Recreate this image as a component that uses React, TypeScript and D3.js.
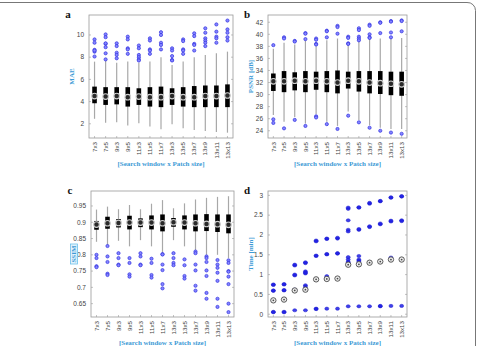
import React from "react";
import * as d3 from "d3";

const categories = ["7x3","7x5","9x3","9x5","11x3","11x5","11x7","13x3","13x5","13x7","13x9","13x11","13x13"];

// Panel a: MAE
const maeLo = [2.45,2.1,2.15,1.85,2.05,1.75,1.5,1.95,1.6,1.45,1.35,1.25,1.2];
const maeQ1 = [3.85,3.7,3.75,3.55,3.7,3.55,3.5,3.7,3.55,3.5,3.5,3.5,3.5];
const maeMed = [4.5,4.45,4.5,4.4,4.45,4.4,4.4,4.5,4.4,4.4,4.5,4.5,4.55];
const maeQ3 = [5.35,5.3,5.3,5.3,5.2,5.3,5.35,5.2,5.3,5.4,5.45,5.45,5.55];
const maeHi = [7.6,7.8,7.5,7.6,7.5,7.6,8.0,7.3,7.6,8.0,8.2,8.35,8.5];
const maeOut = [
  [9.6,9.3,8.66,8.5,8.6,8.06],
  [10.05,9.8,9.2,8.9,9.25,8.35,7.8],
  [9.25,9.0,8.4,8.2,7.9],
  [9.85,9.6,8.8,8.7,8.3],
  [9.05,8.8,8.2,8.0,7.8,7.7],
  [9.7,9.5,8.7,8.6,8.3],
  [10.25,10.0,9.3,9.1,8.7],
  [8.8,8.6,8.1,7.75,7.7],
  [9.6,9.45,8.7,8.6,8.3],
  [10.15,9.9,9.2,9.1,8.6],
  [10.6,10.2,9.7,9.5,9.3,9.0],
  [10.95,10.3,9.85,9.7,9.3],
  [11.3,10.5,10.2,9.8,9.5],
];

// Panel b: PSNR
const psnrLo = [26.6,25.5,26.3,25.2,26.8,25.5,24.8,27.2,25.8,24.9,24.5,24.3,24.3];
const psnrQ1 = [30.6,30.4,30.7,30.4,30.8,30.4,30.2,31.0,30.5,30.2,30.1,29.9,29.8];
const psnrMed = [32.2,32.2,32.3,32.2,32.3,32.2,32.0,32.3,32.2,32.0,31.9,31.8,31.7];
const psnrQ3 = [33.5,33.9,33.7,33.9,33.8,33.9,34.0,33.8,33.9,33.9,33.9,33.8,33.8];
const psnrHi = [37.6,38.6,38.3,39.0,38.0,39.0,39.3,38.2,38.9,39.3,39.3,39.3,39.4];
const psnrOut = [
  [38.2,25.9,25.3],
  [39.5,39.3,24.4],
  [38.9,38.8,25.8],
  [40.2,40.1,39.2,24.8],
  [39.3,39.1,38.4,38.3,26.4,26.2],
  [40.6,40.5,39.5,25.1],
  [41.4,41.2,40.1,24.3],
  [39.6,39.4,38.5,38.4,26.5],
  [41.0,40.7,39.6,39.3,39.0,25.4],
  [41.6,41.4,40.0,39.5,39.4,24.5],
  [42.0,41.9,40.2,24.0],
  [42.2,42.1,40.3,39.5,23.7],
  [42.3,42.2,40.5,23.5],
];

// Panel c: SSIM
const ssimLo = [0.84,0.825,0.843,0.826,0.845,0.826,0.805,0.845,0.826,0.805,0.8,0.8,0.79];
const ssimQ1 = [0.877,0.88,0.884,0.878,0.885,0.878,0.872,0.886,0.878,0.872,0.873,0.87,0.866];
const ssimMed = [0.893,0.897,0.898,0.899,0.899,0.899,0.897,0.9,0.899,0.897,0.895,0.894,0.892];
const ssimQ3 = [0.904,0.917,0.91,0.92,0.912,0.921,0.924,0.913,0.921,0.924,0.925,0.924,0.924];
const ssimHi = [0.939,0.948,0.94,0.953,0.94,0.957,0.968,0.943,0.958,0.97,0.975,0.978,0.98];
const ssimOut = [
  [0.8,0.79,0.765,0.762],
  [0.827,0.795,0.778,0.742,0.738],
  [0.805,0.79,0.77,0.768],
  [0.79,0.775,0.74,0.733],
  [0.805,0.795,0.77,0.768],
  [0.788,0.775,0.738,0.73],
  [0.802,0.801,0.77,0.753,0.71,0.697],
  [0.805,0.79,0.775,0.768],
  [0.786,0.768,0.735,0.727],
  [0.81,0.805,0.77,0.752,0.705,0.69],
  [0.795,0.79,0.778,0.752,0.735,0.683,0.665],
  [0.784,0.77,0.76,0.745,0.72,0.665,0.64],
  [0.783,0.775,0.75,0.748,0.733,0.71,0.65,0.624],
];

// Panel d: Time
const timePoints = [
  [0.74,0.75,0.59,0.6,0.06,0.05],
  [0.75,0.76,0.6,0.61,0.06,0.05],
  [1.23,1.25,0.98,1.0,0.62,0.1],
  [1.29,1.31,1.08,1.03,1.05,0.73,0.69,0.1],
  [1.86,1.84,1.47,1.48,0.14,0.13],
  [1.9,1.91,1.51,1.52,0.96,0.14],
  [1.91,1.93,1.53,1.54,0.14],
  [2.66,2.69,2.37,2.13,2.09,1.44,1.38,1.32,1.3,0.2],
  [2.69,2.7,2.13,2.15,1.47,1.38,1.35,1.32,0.2],
  [2.79,2.81,2.2,2.22,0.2],
  [2.85,2.86,2.27,2.29,0.2,0.21],
  [2.94,2.95,2.34,2.36,1.43,0.21],
  [2.97,2.98,2.37,2.35,0.21],
];
const timeMedian = [0.35,0.37,0.6,0.62,0.88,0.89,0.9,1.25,1.26,1.3,1.33,1.38,1.38];

const BLUE_LABEL = "#3d9bd6";
const FONT_SANS = "'Liberation Sans', Arial, sans-serif";
const FONT_SERIF = "'Liberation Serif', 'Times New Roman', serif";

type PanelProps = {
  left: number; right: number; top: number; bottom: number;
  domain: [number, number]; ticks: number[]; tickFmt: (v: number) => string;
  ylabel: string; letter: string; boxedLabel?: boolean;
  children: (x: d3.ScaleLinear<number, number>, y: d3.ScaleLinear<number, number>) => React.ReactNode;
};

function Panel(p: PanelProps) {
  const x = d3.scaleLinear().domain([0.5, categories.length + 0.5]).range([p.left, p.right]);
  const y = d3.scaleLinear().domain(p.domain).range([p.bottom, p.top]);
  const midY = (p.top + p.bottom) / 2;
  const midX = (p.left + p.right) / 2;
  const tl = 2;
  return (
    <g>
      <rect x={p.left} y={p.top} width={p.right - p.left} height={p.bottom - p.top} fill="white" stroke="#9a9a9a" strokeWidth={0.8} />
      {p.ticks.map((t) => (
        <g key={t}>
          <line x1={p.left} x2={p.left + tl} y1={y(t)} y2={y(t)} stroke="#9a9a9a" strokeWidth={0.6} />
          <line x1={p.right} x2={p.right - tl} y1={y(t)} y2={y(t)} stroke="#9a9a9a" strokeWidth={0.6} />
          <text x={p.left - 5} y={y(t)} dy="0.35em" textAnchor="end" fontSize={6.5} fill="#444" fontFamily={FONT_SANS}>{p.tickFmt(t)}</text>
        </g>
      ))}
      {categories.map((c, i) => (
        <g key={c}>
          <line x1={x(i + 1)} x2={x(i + 1)} y1={p.bottom} y2={p.bottom - tl} stroke="#9a9a9a" strokeWidth={0.6} />
          <text transform={`translate(${x(i + 1)},${p.bottom + 4}) rotate(-90)`} textAnchor="end" dy="0.35em" fontSize={6.2} fill="#444" fontFamily={FONT_SANS}>{c}</text>
        </g>
      ))}
      {p.boxedLabel && (
        <rect x={p.left - 20.5} y={midY - 10} width={7} height={20} fill="#e3f3fc" stroke="#6cc0ea" strokeWidth={0.8} />
      )}
      <text transform={`translate(${p.left - 17},${midY}) rotate(-90)`} textAnchor="middle" dy="0.35em" fontSize={7} fontWeight="bold" fill={BLUE_LABEL} fontFamily={FONT_SERIF}>{p.ylabel}</text>
      <text x={midX} y={p.bottom + 28} textAnchor="middle" fontSize={7} fontWeight="bold" fill={BLUE_LABEL} fontFamily={FONT_SERIF}>[Search window x Patch size]</text>
      <text x={p.left - 21} y={p.top + 3} textAnchor="middle" fontSize={11} fontWeight="bold" fill="#111" fontFamily={FONT_SERIF}>{p.letter}</text>
      {p.children(x, y)}
    </g>
  );
}

function Boxes(x: d3.ScaleLinear<number, number>, y: d3.ScaleLinear<number, number>, lo: number[], q1: number[], med: number[], q3: number[], hi: number[], out: number[][]) {
  return categories.map((c, i) => {
    const cx = x(i + 1);
    return (
      <g key={c}>
        <line x1={cx} x2={cx} y1={y(lo[i])} y2={y(hi[i])} stroke="#a8a8a8" strokeWidth={1.2} />
        <line x1={cx} x2={cx} y1={y(q1[i])} y2={y(q3[i])} stroke="#000" strokeWidth={4.6} />
        <circle cx={cx} cy={y(med[i])} r={2.8} fill="#2a2a2a" stroke="#cfcfcf" strokeWidth={1.1} />
        {out[i].map((v, j) => (
          <circle key={j} cx={cx} cy={y(v)} r={1.6} fill="#8585ff" stroke="#3030e0" strokeWidth={0.7} />
        ))}
      </g>
    );
  });
}

const fmt = (v: number) => String(+v.toFixed(2));

export default function App() {
  return (
    <svg width={479} height={346} style={{ position: "absolute", left: 0, top: 0, background: "white" }}>
      <path d="M0,2.5 H467 A8,8 0 0 1 475.5,10.5 V346" fill="none" stroke="#777" strokeWidth={1} />
      <Panel left={89} right={233} top={15} bottom={138} domain={[0.72, 11.8]} ticks={[2, 4, 6, 8, 10]} tickFmt={fmt} ylabel="MAE" letter="a">
        {(x, y) => Boxes(x, y, maeLo, maeQ1, maeMed, maeQ3, maeHi, maeOut)}
      </Panel>
      <Panel left={268} right={407} top={15} bottom={138} domain={[22.8, 43.2]} ticks={d3.range(24, 43, 2)} tickFmt={fmt} ylabel="PSNR [dB]" letter="b">
        {(x, y) => Boxes(x, y, psnrLo, psnrQ1, psnrMed, psnrQ3, psnrHi, psnrOut)}
      </Panel>
      <Panel left={91} right={234} top={191} bottom={317} domain={[0.609, 0.996]} ticks={[0.65, 0.7, 0.75, 0.8, 0.85, 0.9, 0.95]} tickFmt={fmt} ylabel="SSIM" letter="c" boxedLabel>
        {(x, y) => Boxes(x, y, ssimLo, ssimQ1, ssimMed, ssimQ3, ssimHi, ssimOut)}
      </Panel>
      <Panel left={268} right={407} top={191} bottom={317} domain={[-0.07, 3.11]} ticks={[0, 0.5, 1, 1.5, 2, 2.5, 3]} tickFmt={fmt} ylabel="Time [min]" letter="d">
        {(x, y) => categories.map((c, i) => (
          <g key={c}>
            {timePoints[i].map((v, j) => (
              <ellipse key={j} cx={x(i + 1)} cy={y(v)} rx={2} ry={1.6} fill="#1f1fe6" fillOpacity={0.85} stroke="#1a1acc" strokeWidth={0.5} />
            ))}
            <circle cx={x(i + 1)} cy={y(timeMedian[i])} r={2.7} fill="#ededed" stroke="#4a4a4a" strokeWidth={0.9} />
            <circle cx={x(i + 1)} cy={y(timeMedian[i])} r={0.9} fill="#4a4a4a" />
          </g>
        ))}
      </Panel>
    </svg>
  );
}
